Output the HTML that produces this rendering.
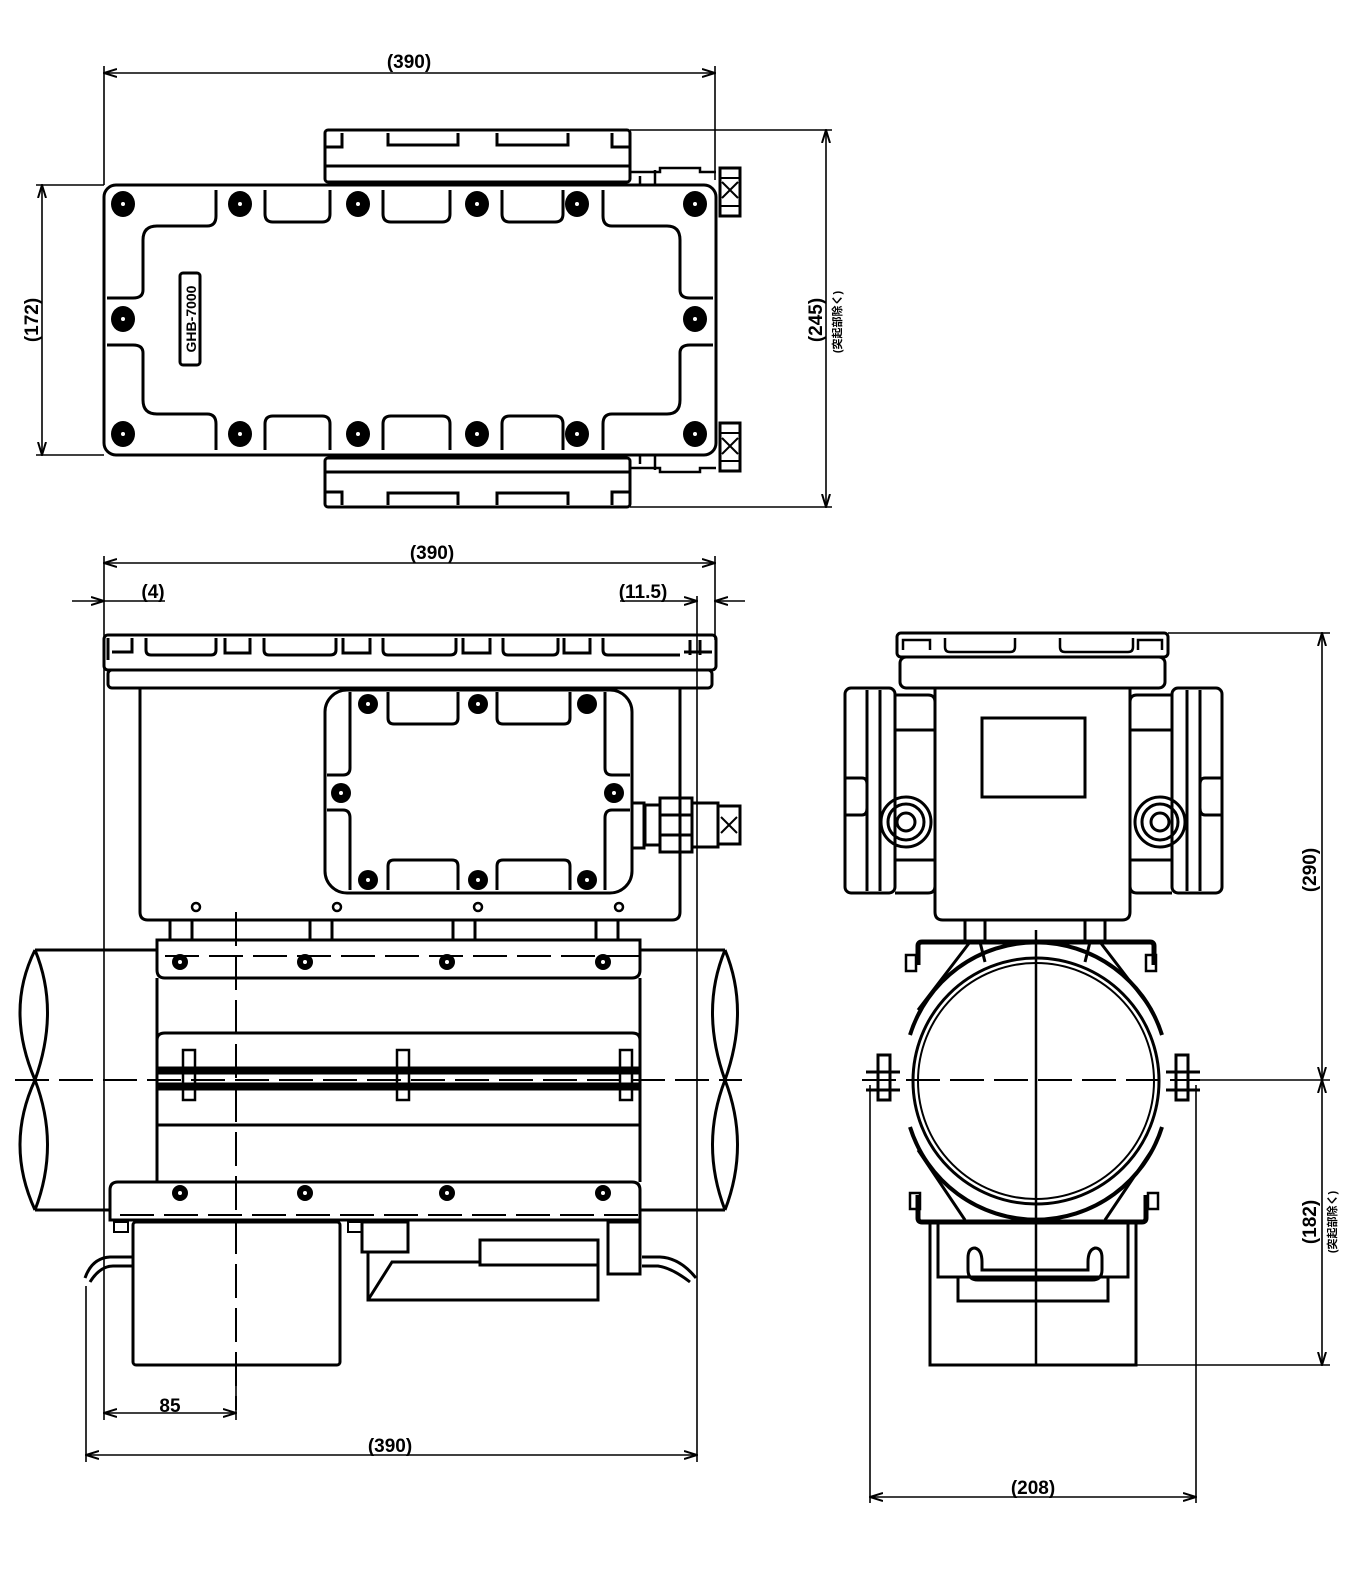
<!DOCTYPE html>
<html><head><meta charset="utf-8"><style>
html,body{margin:0;padding:0;background:#fff}
svg{display:block}
text{font-family:"Liberation Sans Narrow","Liberation Sans","Noto Sans CJK JP",sans-serif;font-weight:bold;fill:#000}
</style></head><body>
<svg width="1354" height="1577" viewBox="0 0 1354 1577" xmlns="http://www.w3.org/2000/svg">
<defs>
<marker id="a" viewBox="0 0 14 10" refX="13" refY="5" markerWidth="14" markerHeight="10" markerUnits="userSpaceOnUse" orient="auto-start-reverse">
<path d="M0,1 L13,5 L0,9" fill="none" stroke="#000" stroke-width="2"/>
</marker>
</defs>
<g fill="none" stroke="#000" stroke-width="1.6">
<line x1="104" y1="73" x2="715" y2="73" marker-start="url(#a)" marker-end="url(#a)"/>
<line x1="104" y1="66" x2="104" y2="185"/>
<line x1="715" y1="66" x2="715" y2="180"/>
<line x1="42" y1="185" x2="42" y2="455" marker-start="url(#a)" marker-end="url(#a)"/>
<line x1="36" y1="185" x2="104" y2="185"/>
<line x1="36" y1="455" x2="104" y2="455"/>
<line x1="826" y1="130" x2="826" y2="507" marker-start="url(#a)" marker-end="url(#a)"/>
<line x1="630" y1="130" x2="832" y2="130"/>
<line x1="630" y1="507" x2="832" y2="507"/>
</g>
<g font-size="19">
<text x="409" y="68" text-anchor="middle">(390)</text>
<text transform="translate(38,320) rotate(-90)" text-anchor="middle">(172)</text>
<text transform="translate(822,320) rotate(-90)" text-anchor="middle">(245)</text>
<text transform="translate(841,322) rotate(-90)" text-anchor="middle" font-size="11">(突起部除く)</text>
</g>
<g fill="none" stroke="#000" stroke-width="3">
<rect x="325" y="130" width="305" height="52" rx="3"/>
<line x1="325" y1="166" x2="630" y2="166"/>
<path d="M325,147 H342 V133 M388,133 V145 H458 V133 M497,133 V145 H568 V133 M612,133 V147 H630"/>
<rect x="325" y="458" width="305" height="49" rx="3"/>
<line x1="325" y1="472" x2="630" y2="472"/>
<path d="M325,492 H342 V505 M388,505 V493 H458 V505 M497,505 V493 H568 V505 M612,505 V492 H630"/>
<rect x="104" y="185" width="612" height="270" rx="12"/>
<path d="M143,240 Q143,226 157,226 H207 Q216,226 216,216 V190 M265,190 V214 Q265,222 273,222 H322 Q330,222 330,214 V190 M383,190 V214 Q383,222 391,222 H442 Q450,222 450,214 V190 M502,190 V214 Q502,222 510,222 H555 Q563,222 563,214 V190 M603,190 V216 Q603,226 612,226 H667 Q680,226 680,240 V290 Q680,298 690,298 H713 M713,345 H690 Q680,345 680,353 V400 Q680,414 667,414 H612 Q603,414 603,424 V450 M563,450 V424 Q563,416 555,416 H510 Q502,416 502,424 V450 M450,450 V424 Q450,416 442,416 H391 Q383,416 383,424 V450 M330,450 V424 Q330,416 322,416 H273 Q265,416 265,424 V450 M216,450 V424 Q216,414 207,414 H157 Q143,414 143,400 V353 Q143,345 133,345 H107 M107,298 H133 Q143,298 143,290 V240" />
<rect x="180" y="273" width="20" height="92" rx="3"/>
<path d="M630,172 H660 V168 H700 V172 H716 M640,176 V184 M655,170 V184" stroke-width="2.5"/>
<rect x="720" y="168" width="20" height="48"/>
<path d="M722,182 L738,198 M738,182 L722,198 M720,178 H740 M720,206 H740" stroke-width="2"/>
<path d="M630,468 H660 V472 H700 V468 H716 M640,456 V464 M655,456 V470" stroke-width="2.5"/>
<rect x="720" y="423" width="20" height="48"/>
<path d="M722,438 L738,454 M738,438 L722,454 M720,433 H740 M720,461 H740" stroke-width="2"/>
</g>
<text transform="translate(196,319) rotate(-90)" text-anchor="middle" font-size="14">GHB-7000</text>
<g fill="#000">
<ellipse cx="123" cy="204" rx="12" ry="13"/><ellipse cx="240" cy="204" rx="12" ry="13"/><ellipse cx="358" cy="204" rx="12" ry="13"/><ellipse cx="477" cy="204" rx="12" ry="13"/><ellipse cx="577" cy="204" rx="12" ry="13"/><ellipse cx="695" cy="204" rx="12" ry="13"/>
<ellipse cx="123" cy="434" rx="12" ry="13"/><ellipse cx="240" cy="434" rx="12" ry="13"/><ellipse cx="358" cy="434" rx="12" ry="13"/><ellipse cx="477" cy="434" rx="12" ry="13"/><ellipse cx="577" cy="434" rx="12" ry="13"/><ellipse cx="695" cy="434" rx="12" ry="13"/>
<ellipse cx="123" cy="319" rx="12" ry="13"/><ellipse cx="695" cy="319" rx="12" ry="13"/>
</g>
<g fill="#fff">
<circle cx="123" cy="204" r="2"/><circle cx="240" cy="204" r="2"/><circle cx="358" cy="204" r="2"/><circle cx="477" cy="204" r="2"/><circle cx="577" cy="204" r="2"/><circle cx="695" cy="204" r="2"/>
<circle cx="123" cy="434" r="2"/><circle cx="240" cy="434" r="2"/><circle cx="358" cy="434" r="2"/><circle cx="477" cy="434" r="2"/><circle cx="577" cy="434" r="2"/><circle cx="695" cy="434" r="2"/>
<circle cx="123" cy="319" r="2"/><circle cx="695" cy="319" r="2"/>
</g>

<g fill="none" stroke="#000" stroke-width="1.6">
<line x1="104" y1="563" x2="715" y2="563" marker-start="url(#a)" marker-end="url(#a)"/>
<line x1="104" y1="556" x2="104" y2="1262"/>
<line x1="715" y1="556" x2="715" y2="640"/>
<line x1="697" y1="596" x2="697" y2="1462"/>
<line x1="72" y1="601" x2="104" y2="601" marker-end="url(#a)"/>
<line x1="104" y1="601" x2="165" y2="601"/>
<line x1="620" y1="601" x2="697" y2="601" marker-end="url(#a)"/>
<line x1="745" y1="601" x2="715" y2="601" marker-end="url(#a)"/>
<line x1="104" y1="1413" x2="236" y2="1413" marker-start="url(#a)" marker-end="url(#a)"/>
<line x1="86" y1="1455" x2="697" y2="1455" marker-start="url(#a)" marker-end="url(#a)"/>
<line x1="86" y1="1286" x2="86" y2="1462"/>
<line x1="104" y1="1262" x2="104" y2="1420"/>
<line x1="236" y1="1380" x2="236" y2="1420"/>
</g>
<g font-size="19">
<text x="432" y="559" text-anchor="middle">(390)</text>
<text x="153" y="598" text-anchor="middle">(4)</text>
<text x="643" y="598" text-anchor="middle">(11.5)</text>
<text x="170" y="1412" text-anchor="middle">85</text>
<text x="390" y="1452" text-anchor="middle">(390)</text>
</g>
<g fill="none" stroke="#000" stroke-width="3">
<rect x="104" y="635" width="612" height="35" rx="4"/>
<rect x="108" y="670" width="604" height="18" rx="4"/>
<path d="M108,660 V638 M112,652 H132 V638 M146,638 V650 Q146,655 151,655 H211 Q216,655 216,650 V638 M225,638 V653 H250 V638 M264,638 V650 Q264,655 269,655 H330 Q336,655 336,650 V638 M343,638 V653 H370 V638 M383,638 V650 Q383,655 388,655 H450 Q456,655 456,650 V638 M463,638 V653 H490 V638 M503,638 V650 Q503,655 508,655 H553 Q558,655 558,650 V638 M564,638 V653 H590 V638 M603,638 V650 Q603,655 608,655 H680 M684,652 H712 M690,640 V655 M700,640 V655"/>
<path d="M140,688 V912 Q140,920 148,920 H672 Q680,920 680,912 V688"/>
<rect x="325" y="690" width="307" height="203" rx="22"/>
<path d="M388,692 V718 Q388,724 394,724 H452 Q458,724 458,718 V692 M497,692 V718 Q497,724 503,724 H564 Q570,724 570,718 V692 M605,692 V768 Q605,775 612,775 H630 M630,810 H612 Q605,810 605,818 V890 M570,890 V866 Q570,860 564,860 H503 Q497,860 497,866 V890 M458,890 V866 Q458,860 452,860 H394 Q388,860 388,866 V890 M350,890 V818 Q350,810 343,810 H327 M327,775 H343 Q350,775 350,768 V692"/>
<rect x="632" y="803" width="12" height="45"/>
<rect x="645" y="805" width="15" height="40"/>
<rect x="660" y="798" width="32" height="54"/>
<line x1="660" y1="815" x2="692" y2="815"/><line x1="660" y1="835" x2="692" y2="835"/>
<rect x="692" y="803" width="26" height="44"/>
<rect x="718" y="806" width="22" height="38"/>
<path d="M721,817 L737,833 M737,817 L721,833" stroke-width="2"/>
<path d="M170,920 V940 M192,920 V940 M310,920 V940 M332,920 V940 M453,920 V940 M475,920 V940 M596,920 V940 M618,920 V940"/>
<circle cx="196" cy="907" r="4" stroke-width="2.5"/><circle cx="337" cy="907" r="4" stroke-width="2.5"/><circle cx="478" cy="907" r="4" stroke-width="2.5"/><circle cx="619" cy="907" r="4" stroke-width="2.5"/>
<path d="M157,940 H640 V970 Q640,978 632,978 H165 Q157,978 157,970 Z"/>
<path d="M157,978 V1182 M640,978 V1182"/>
<path d="M157,1040 Q157,1033 165,1033 H632 Q640,1033 640,1040"/>
<rect x="157" y="1068" width="483" height="5" fill="#000"/>
<rect x="157" y="1084" width="483" height="5" fill="#000"/>
<line x1="157" y1="1125" x2="640" y2="1125"/>
<path d="M110,1190 Q110,1182 118,1182 H632 Q640,1182 640,1190 V1220 H110 Z"/>
<path d="M640,950 H725 M157,950 H35 M640,1210 H725 M110,1210 H35"/>
<path d="M35,950 Q60,1010 35,1080 Q5,1145 35,1210 M35,950 Q5,1010 35,1080 Q60,1145 35,1210"/>
<path d="M725,950 Q750,1010 725,1080 Q700,1145 725,1210 M725,950 Q700,1010 725,1080 Q750,1145 725,1210" />
<path d="M183,1050 V1100 H195 V1050 Z M397,1050 V1100 H409 V1050 Z M620,1050 V1100 H632 V1050 Z" stroke-width="2.5"/>
<rect x="133" y="1222" width="207" height="143" rx="3"/>
<rect x="114" y="1222" width="14" height="10" stroke-width="2"/>
<rect x="348" y="1222" width="14" height="10" stroke-width="2"/>
<rect x="362" y="1222" width="46" height="30"/>
<path d="M368,1252 V1300 H598 V1240 H480 V1265 H598 M368,1300 L392,1262 H480"/>
<rect x="608" y="1222" width="32" height="52"/>
<path d="M85,1278 Q92,1258 110,1257 H133 M90,1282 Q100,1266 113,1266 H133"/>
<path d="M642,1257 H660 Q680,1258 696,1278 M642,1266 H658 Q672,1268 690,1282"/>
</g>
<g fill="#000">
<circle cx="368" cy="704" r="10"/><circle cx="478" cy="704" r="10"/><circle cx="587" cy="704" r="10"/>
<circle cx="341" cy="793" r="10"/><circle cx="614" cy="793" r="10"/>
<circle cx="368" cy="880" r="10"/><circle cx="478" cy="880" r="10"/><circle cx="587" cy="880" r="10"/>
<circle cx="180" cy="962" r="8"/><circle cx="305" cy="962" r="8"/><circle cx="447" cy="962" r="8"/><circle cx="603" cy="962" r="8"/>
<circle cx="180" cy="1193" r="8"/><circle cx="305" cy="1193" r="8"/><circle cx="447" cy="1193" r="8"/><circle cx="603" cy="1193" r="8"/>
</g>
<g fill="#fff">
<circle cx="368" cy="704" r="2"/><circle cx="478" cy="704" r="2"/><circle cx="341" cy="793" r="2"/><circle cx="614" cy="793" r="2"/>
<circle cx="368" cy="880" r="2"/><circle cx="478" cy="880" r="2"/><circle cx="587" cy="880" r="2"/>
<circle cx="180" cy="962" r="2"/><circle cx="305" cy="962" r="2"/><circle cx="447" cy="962" r="2"/><circle cx="603" cy="962" r="2"/>
<circle cx="180" cy="1193" r="2"/><circle cx="305" cy="1193" r="2"/><circle cx="447" cy="1193" r="2"/><circle cx="603" cy="1193" r="2"/>
</g>
<g fill="none" stroke="#000" stroke-width="2" stroke-dasharray="34,10">
<line x1="15" y1="1080" x2="742" y2="1080"/>
<line x1="236" y1="912" x2="236" y2="1410"/>
<line x1="165" y1="956" x2="640" y2="956"/>
<line x1="120" y1="1215" x2="640" y2="1215"/>
</g>

<g fill="none" stroke="#000" stroke-width="1.6">
<line x1="1322" y1="633" x2="1322" y2="1080" marker-start="url(#a)" marker-end="url(#a)"/>
<line x1="1322" y1="1080" x2="1322" y2="1365" marker-start="url(#a)" marker-end="url(#a)"/>
<line x1="1168" y1="633" x2="1330" y2="633"/>
<line x1="1136" y1="1365" x2="1330" y2="1365"/>
<line x1="1196" y1="1080" x2="1330" y2="1080"/>
<line x1="870" y1="1497" x2="1196" y2="1497" marker-start="url(#a)" marker-end="url(#a)"/>
<line x1="870" y1="1085" x2="870" y2="1503"/>
<line x1="1196" y1="1085" x2="1196" y2="1503"/>
</g>
<g font-size="19">
<text transform="translate(1316,870) rotate(-90)" text-anchor="middle">(290)</text>
<text transform="translate(1316,1222) rotate(-90)" text-anchor="middle">(182)</text>
<text transform="translate(1336,1222) rotate(-90)" text-anchor="middle" font-size="11">(突起部除く)</text>
<text x="1033" y="1494" text-anchor="middle">(208)</text>
</g>
<g fill="none" stroke="#000" stroke-width="3">
<rect x="897" y="633" width="271" height="24" rx="4"/>
<rect x="900" y="657" width="265" height="31" rx="6"/>
<path d="M903,650 V640 H930 V650 M945,638 V647 Q945,652 950,652 H1010 Q1015,652 1015,647 V638 M1060,638 V647 Q1060,652 1065,652 H1128 Q1133,652 1133,647 V638 M1138,650 V640 H1162 V650" stroke-width="2.5"/>
<path d="M935,688 V912 Q935,920 943,920 H1122 Q1130,920 1130,912 V688"/>
<rect x="982" y="718" width="103" height="79"/>
<rect x="845" y="688" width="50" height="205" rx="6"/>
<path d="M867,690 V891 M880,690 V891 M845,778 H862 Q867,778 867,784 M845,815 H862 Q867,815 867,808"/>
<path d="M895,695 H928 Q935,695 935,702 V730 M895,730 H935 M895,860 H935 M895,893 H928 Q935,893 935,886"/>
<rect x="1172" y="688" width="50" height="205" rx="6"/>
<path d="M1200,690 V891 M1187,690 V891 M1222,778 H1205 Q1200,778 1200,784 M1222,815 H1205 Q1200,815 1200,808"/>
<path d="M1172,695 H1137 Q1130,695 1130,702 V730 M1130,730 H1172 M1130,860 H1172 M1172,893 H1137 Q1130,893 1130,886"/>
<circle cx="906" cy="822" r="25"/><circle cx="906" cy="822" r="18"/><circle cx="906" cy="822" r="9"/>
<circle cx="1160" cy="822" r="25"/><circle cx="1160" cy="822" r="18"/><circle cx="1160" cy="822" r="9"/>
<path d="M965,920 V940 M985,920 V940 M1085,920 V940 M1105,920 V940"/>
<circle cx="1036" cy="1081" r="123"/>
<circle cx="1036" cy="1081" r="118" stroke-width="2"/>
<path d="M910,1035 A132,132 0 0 1 1162,1035 M910,1127 A132,132 0 0 0 1162,1127" stroke-width="4"/>
<path d="M918,965 V946 Q918,942 922,942 H1150 Q1154,942 1154,946 V965" stroke-width="5"/>
<path d="M970,942 L918,1010 M1100,942 L1152,1010 M980,942 L985,962 M1090,942 L1085,962"/>
<rect x="906" y="955" width="10" height="16" stroke-width="2.5"/><rect x="1146" y="955" width="10" height="16" stroke-width="2.5"/>
<path d="M918,1195 V1218 Q918,1222 922,1222 H1142 Q1146,1222 1146,1218 V1195" stroke-width="5"/>
<path d="M918,1150 L965,1220 M1152,1150 L1105,1220"/>
<rect x="910" y="1193" width="10" height="16" stroke-width="2.5"/><rect x="1148" y="1193" width="10" height="16" stroke-width="2.5"/>
<path d="M866,1072 H900 M866,1090 H900 M878,1055 V1100 H890 V1055 Z M1166,1072 H1200 M1166,1090 H1200 M1176,1055 V1100 H1188 V1055 Z" stroke-width="3"/>
<rect x="930" y="1222" width="206" height="143"/>
<rect x="938" y="1222" width="190" height="55"/>
<rect x="958" y="1277" width="150" height="24"/>
<path d="M968,1258 Q968,1248 975,1248 Q982,1250 982,1262 V1270 H1088 V1262 Q1088,1250 1095,1248 Q1102,1248 1102,1258 V1270 Q1102,1280 1092,1280 H978 Q968,1280 968,1270 Z"/>
</g>
<g fill="none" stroke="#000" stroke-width="2" stroke-dasharray="34,10">
<line x1="862" y1="1080" x2="1200" y2="1080"/>
</g>
<line x1="1036" y1="930" x2="1036" y2="1365" stroke="#000" stroke-width="2.5"/>
</svg>
</body></html>
